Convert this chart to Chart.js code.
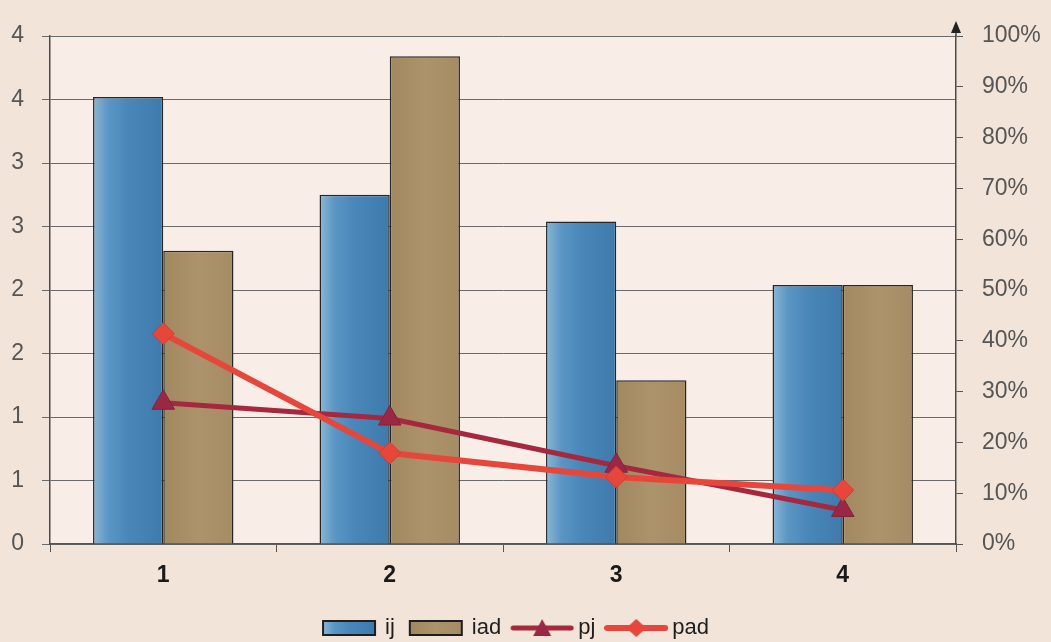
<!DOCTYPE html>
<html>
<head>
<meta charset="utf-8">
<script src="https://cdn.jsdelivr.net/npm/chart.js@4.4.1/dist/chart.umd.min.js"></script>
<style>
  html, body { margin: 0; padding: 0; background: #f2e4d9; }
  #wrap { width: 1051px; height: 642px; }
</style>
</head>
<body>
<div id="wrap"><canvas id="c" width="1051" height="642"></canvas></div>
<script>
const categories = ['1', '2', '3', '4'];
const ijValues = [3.52, 2.75, 2.54, 2.04];
const iadValues = [2.31, 3.84, 1.29, 2.04];
const pjValues = [27.8, 24.7, 15.4, 6.7];
const padValues = [41.4, 17.9, 13.2, 10.6];
const leftTickLabels = ['0', '1', '1', '2', '2', '3', '3', '4', '4'];
const rightTickLabels = ['0%', '10%', '20%', '30%', '40%', '50%', '60%', '70%', '80%', '90%', '100%'];
const seriesNames = ['ij', 'iad', 'pj', 'pad'];

const FONT = "'Liberation Sans', Arial, sans-serif";
const BLUE_STOPS = [[0, '#8ab7d6'], [0.22, '#5a95c4'], [0.5, '#4a87b9'], [1, '#3e7aac']];
const TAN_STOPS = [[0, '#a2885f'], [0.5, '#ac936c'], [1, '#a68c65']];
const PJ_COLOR = '#a5283d';
const PAD_COLOR = '#e7463a';
const CAT_PCT = 0.62;

function barFill(stops, side) {
  return function (ctx) {
    const chart = ctx.chart;
    const xs = chart.scales && chart.scales.x;
    if (!chart.chartArea || !xs || ctx.dataIndex === undefined) return stops[1][1];
    const center = xs.getPixelForValue(ctx.dataIndex);
    const w = (xs.width / categories.length) * CAT_PCT / 2;
    const x0 = side === 0 ? center - w : center;
    const g = chart.ctx.createLinearGradient(x0, 0, x0 + w, 0);
    stops.forEach(s => g.addColorStop(s[0], s[1]));
    return g;
  };
}

function legendBox(stops) {
  const c = document.createElement('canvas');
  c.width = 56; c.height = 18;
  const x = c.getContext('2d');
  const g = x.createLinearGradient(2, 0, 54, 0);
  stops.forEach(s => g.addColorStop(s[0], s[1]));
  x.fillStyle = g;
  x.fillRect(2, 2, 52, 14);
  x.strokeStyle = '#1e1e1e';
  x.lineWidth = 2;
  x.strokeRect(2, 2, 52, 14);
  return c;
}

function legendLine(color, lw, marker, mfill) {
  const c = document.createElement('canvas');
  c.width = 64; c.height = 24;
  const x = c.getContext('2d');
  x.strokeStyle = color;
  x.lineWidth = lw;
  x.lineCap = 'round';
  x.beginPath(); x.moveTo(3, 12); x.lineTo(61, 12); x.stroke();
  x.fillStyle = mfill;
  x.beginPath();
  if (marker === 'triangle') {
    x.moveTo(32, 3); x.lineTo(41, 20); x.lineTo(23, 20); x.closePath();
  } else {
    x.moveTo(32, 3); x.lineTo(42, 12); x.lineTo(32, 21); x.lineTo(22, 12); x.closePath();
  }
  x.fill();
  return c;
}

const legendImages = [
  legendBox(BLUE_STOPS),
  legendBox(TAN_STOPS),
  legendLine(PJ_COLOR, 5, 'triangle', '#9a2844'),
  legendLine(PAD_COLOR, 6, 'diamond', PAD_COLOR)
];

const bgPlugin = {
  id: 'bg',
  afterLayout(chart) {
    if (chart.legend) {
      chart.legend.top += 7; chart.legend.bottom += 7;
      chart.legend.left -= 9; chart.legend.right -= 9;
    }
  },
  beforeDraw(chart) {
    const { ctx, chartArea: a } = chart;
    ctx.save();
    ctx.fillStyle = '#f2e4d9';
    ctx.fillRect(0, 0, chart.width, chart.height);
    ctx.fillStyle = '#f8eee7';
    ctx.fillRect(a.left, a.top, a.right - a.left, a.bottom - a.top);
    ctx.restore();
  },
  afterDraw(chart) {
    const { ctx, chartArea: a } = chart;
    const x = a.right;
    ctx.save();
    ctx.strokeStyle = '#4a4a4a';
    ctx.lineWidth = 1.5;
    ctx.beginPath(); ctx.moveTo(x, a.top); ctx.lineTo(x, a.top - 8); ctx.stroke();
    ctx.fillStyle = '#222';
    ctx.beginPath();
    ctx.moveTo(x, a.top - 15); ctx.lineTo(x + 5, a.top - 3); ctx.lineTo(x - 5, a.top - 3); ctx.closePath();
    ctx.fill();
    ctx.restore();
  }
};

new Chart(document.getElementById('c'), {
  type: 'bar',
  data: {
    labels: categories,
    datasets: [
      { label: seriesNames[0], data: ijValues, yAxisID: 'y', order: 2,
        backgroundColor: barFill(BLUE_STOPS, 0), borderColor: '#262626', borderWidth: 1.5,
        categoryPercentage: CAT_PCT, barPercentage: 1.0 },
      { label: seriesNames[1], data: iadValues, yAxisID: 'y', order: 2,
        backgroundColor: barFill(TAN_STOPS, 1), borderColor: '#262626', borderWidth: 1.5,
        categoryPercentage: CAT_PCT, barPercentage: 1.0 },
      { label: seriesNames[2], type: 'line', data: pjValues, yAxisID: 'y1', order: 1,
        borderColor: PJ_COLOR, borderWidth: 5, backgroundColor: '#9a2844',
        pointStyle: 'triangle', pointRadius: 13, pointBorderColor: '#7d2440', pointBorderWidth: 1,
        pointBackgroundColor: '#9a2844', tension: 0, fill: false },
      { label: seriesNames[3], type: 'line', data: padValues, yAxisID: 'y1', order: 0,
        borderColor: PAD_COLOR, borderWidth: 6, backgroundColor: PAD_COLOR,
        pointStyle: 'rectRot', pointRadius: 11, pointBorderColor: '#d8382f', pointBorderWidth: 1,
        pointBackgroundColor: PAD_COLOR, tension: 0, fill: false }
    ]
  },
  options: {
    responsive: false,
    animation: false,
    layout: { padding: { top: 36, bottom: 0, left: 0, right: 0 } },
    plugins: {
      tooltip: { enabled: false },
      legend: {
        position: 'bottom',
        labels: {
          usePointStyle: true,
          pointStyleWidth: 50,
          boxHeight: 22,
          padding: 16,
          color: '#1e1e1e',
          font: { family: FONT, size: 22 },
          generateLabels(chart) {
            return chart.data.datasets.map((ds, i) => ({
              text: ds.label,
              pointStyle: legendImages[i],
              rotation: 0,
              fillStyle: 'transparent',
              strokeStyle: 'transparent',
              lineWidth: 0,
              fontColor: '#1e1e1e',
              hidden: false,
              datasetIndex: i
            }));
          }
        }
      }
    },
    scales: {
      x: {
        offset: true,
        grid: { display: true, drawOnChartArea: false, offset: true, tickLength: 8, color: '#555', lineWidth: 1 },
        border: { display: true, color: '#555', width: 1.5 },
        ticks: { color: '#1a1a1a', font: { family: FONT, size: 23, weight: 'bold' }, padding: 10 },
        afterFit(s) { s.height = 50; }
      },
      y: {
        position: 'left',
        min: 0, max: 4,
        ticks: {
          stepSize: 0.5,
          color: '#555',
          padding: 18,
          font: { family: FONT, size: 23 },
          callback: (v, i) => leftTickLabels[i]
        },
        grid: { color: '#6a6a6a', lineWidth: 1, tickLength: 8 },
        border: { display: true, color: '#4a4a4a', width: 1.5 },
        afterFit(s) { s.width = 50; }
      },
      y1: {
        position: 'right',
        min: 0, max: 100,
        ticks: {
          stepSize: 10,
          color: '#555',
          padding: 19,
          font: { family: FONT, size: 23 },
          callback: (v, i) => rightTickLabels[i]
        },
        grid: { drawOnChartArea: false, tickLength: 7, color: '#555', lineWidth: 1 },
        border: { display: true, color: '#4a4a4a', width: 1.5 },
        afterFit(s) { s.width = 95; }
      }
    }
  },
  plugins: [bgPlugin]
});
</script>
</body>
</html>
